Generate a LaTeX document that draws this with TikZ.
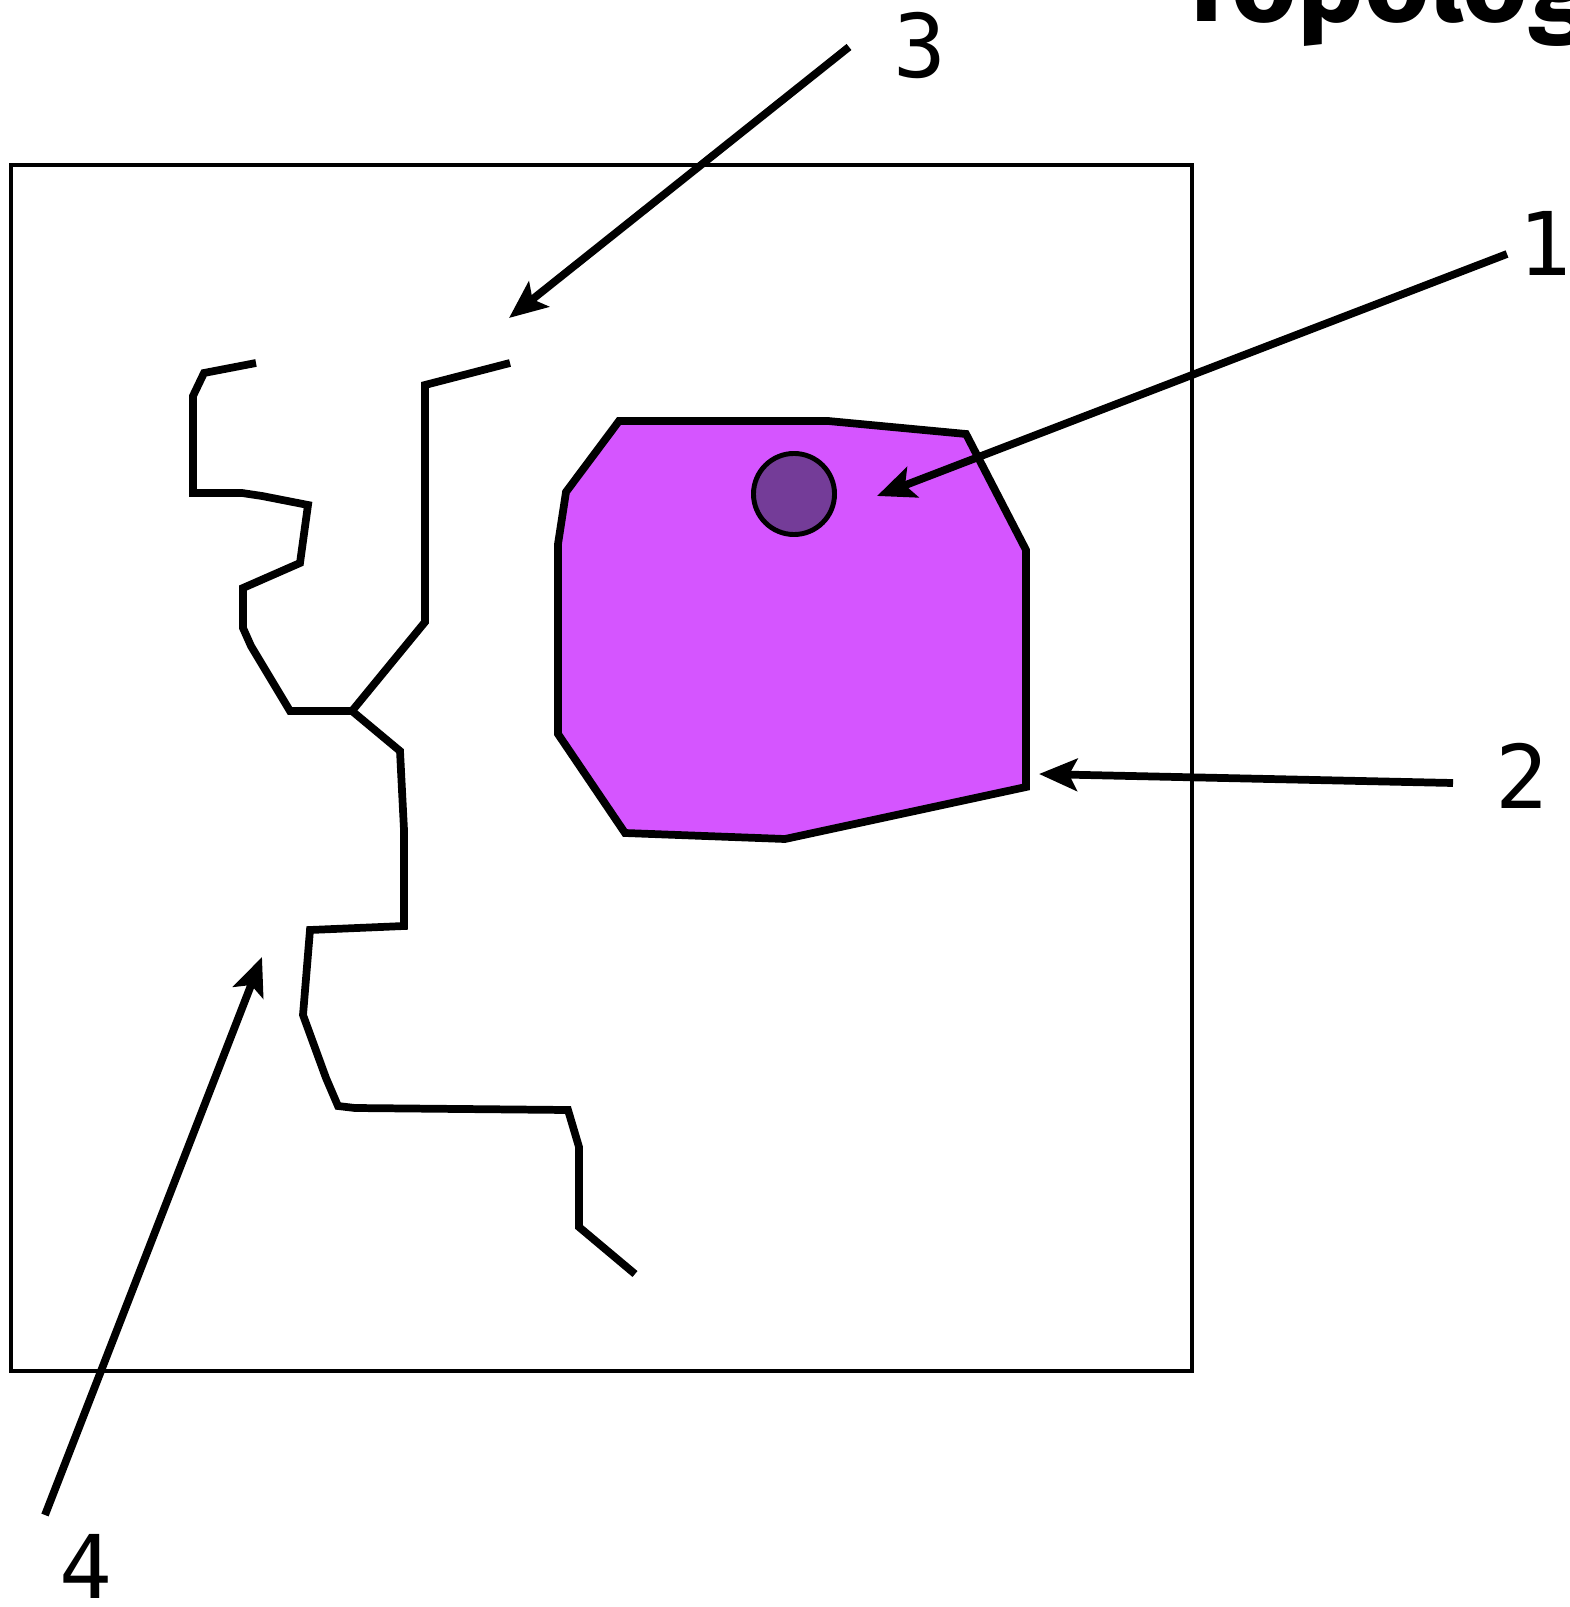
\documentclass[tikz,border=0pt]{standalone}
\usepackage{fontspec}
\usepackage{xcolor}
\usetikzlibrary{arrows.meta}
\newfontfamily\numfont{DejaVu Sans Mono}
\newfontfamily\headfont{Fira Sans}
\definecolor{softpurple}{RGB}{213,85,255}
\definecolor{darkpurple}{RGB}{116,60,152}

\begin{document}
\begin{tikzpicture}[x=0.01cm, y=-0.01cm, >={Stealth[length=0.38cm,width=0.32cm,inset=0.08cm]},
    callout/.style={->, line width=2.2pt},
    numlabel/.style={font=\numfont\fontsize{25}{30}\selectfont, inner sep=0pt},
    boundary/.style={line width=2.2pt, line join=miter}]
  \useasboundingbox (0,0) rectangle (1569,1607);
  \clip (0,0) rectangle (1569,1607);

  % heading, cut off by the slide edge
  \node[anchor=base west, inner sep=0pt, font=\headfont\bfseries\fontsize{32}{38}\selectfont] (head) at (1176,22) {Topology};

  % map frame
  \draw[line width=1.2pt] (11,165) rectangle (1192,1371);

  % region
  \draw[boundary, fill=softpurple]
    (619,421) -- (828,421) -- (966,434) -- (1026,550) -- (1026,787) -- (785,839)
    -- (625,833) -- (558,734) -- (558,544) -- (566,492) -- cycle;
  \node[circle, draw, line width=1.4pt, fill=darkpurple, minimum size=0.81cm, inner sep=0pt] (pt) at (794,494) {};

  % broken line work
  \draw[boundary] (256,363) -- (204,373) -- (193,396) -- (193,493) -- (242,493)
    -- (262,496) -- (308,505) -- (300,563) -- (243,588) -- (243,628) -- (251,646)
    -- (290,711) -- (352,711) -- (425,622) -- (425,385) -- (510,363);
  \draw[boundary] (352,711) -- (400,751) -- (404,830) -- (404,926) -- (310,930)
    -- (303,1015) -- (326,1078) -- (338,1106) -- (355,1108) -- (568,1110)
    -- (579,1147) -- (579,1227) -- (635,1274);

  % labels
  \node[numlabel] (lab1) at (1545,243) {1};
  \node[numlabel] (lab2) at (1522,776) {2};
  \node[numlabel] (lab3) at (920,46) {3};
  \node[numlabel] (lab4) at (86,1566) {4};

  \coordinate (from1) at (1507,254);
  \coordinate (to1) at (877,496);
  \coordinate (from2) at (1453,783);
  \coordinate (to2) at (1039,774);
  \coordinate (from3) at (849,47);
  \coordinate (to3) at (509,318);
  \coordinate (from4) at (45,1515);
  \coordinate (to4) at (262,957);

  \draw[callout] (from1) -- (to1);
  \draw[callout] (from2) -- (to2);
  \draw[callout] (from3) -- (to3);
  \draw[callout] (from4) -- (to4);
\end{tikzpicture}
\end{document}
